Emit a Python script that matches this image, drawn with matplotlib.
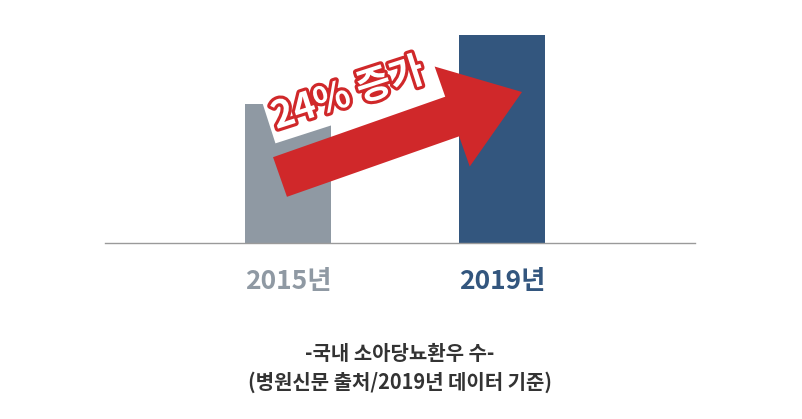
import numpy as np
import matplotlib
matplotlib.use("Agg")
import matplotlib.pyplot as plt
from matplotlib.patches import Polygon
import matplotlib.patheffects as pe

plt.rcParams['font.family'] = ['Noto Sans CJK KR', 'DejaVu Sans']

years = ['2015년', '2019년']
patients = [139, 208]
bar_colors = ['#8f99a3', '#33567e']
arrow_red = '#d0282a'
growth_label = '24% 증가'
caption = '-국내 소아당뇨환우 수-\n(병원신문 출처/2019년 데이터 기준)'

W, H = 802, 419
fig = plt.figure(figsize=(W / 100, H / 100), dpi=100)
ax = fig.add_axes([105 / W, (H - 243) / H, 590 / W, 208 / H])

x = np.arange(len(years))
ax.bar(x, patients, width=0.40, color=bar_colors, zorder=2)
ax.set_xlim(-0.855, 1.902)
ax.set_ylim(0, max(patients))

for s in ['top', 'right', 'left']:
    ax.spines[s].set_visible(False)
ax.spines['bottom'].set_color('#9a9a9a')
ax.spines['bottom'].set_linewidth(1.0)
ax.set_yticks([])
ax.set_xticks(x)
ax.set_xticklabels(years, fontsize=19, fontweight='bold')
for lab, c in zip(ax.get_xticklabels(), bar_colors):
    lab.set_color(c)
ax.tick_params(axis='x', length=0, pad=18)


# arrow, laid out in image pixels (y down) then moved to figure fractions
def to_fig(px, py):
    return (px / W, (H - py) / H)


tail = np.array([280.0, 177.0])
tip = np.array([522.0, 92.0])
u = (tip - tail) / np.linalg.norm(tip - tail)
n = np.array([-u[1], u[0]])
head_len, shaft_hw, head_hw = 74, 21, 53
back = tip - u * head_len
pts = [tail + n * shaft_hw, back + n * shaft_hw, back + n * head_hw, tip,
       back - n * head_hw, back - n * shaft_hw, tail - n * shaft_hw]
arrow = Polygon([to_fig(*p) for p in pts], closed=True, transform=fig.transFigure,
                facecolor=arrow_red, edgecolor='none', zorder=5)
fig.add_artist(arrow)

ang = np.degrees(np.arctan2(-u[1], u[0]))
tx, ty = to_fig(348, 94)
fig.text(tx, ty, growth_label, fontsize=27, fontweight='bold', color='white',
         rotation=ang - 1.5, rotation_mode='anchor', ha='center', va='center',
         bbox=dict(boxstyle='square,pad=0.14', facecolor='white', edgecolor='none'),
         path_effects=[pe.Stroke(linewidth=4.5, foreground=arrow_red), pe.Normal()],
         zorder=6)

cx, cy = to_fig(400, 368)
fig.text(cx, cy, caption, fontsize=14.4, fontweight='bold', color='#333333',
         ha='center', va='center', linespacing=1.4)

fig.savefig('out.png', dpi=100)
